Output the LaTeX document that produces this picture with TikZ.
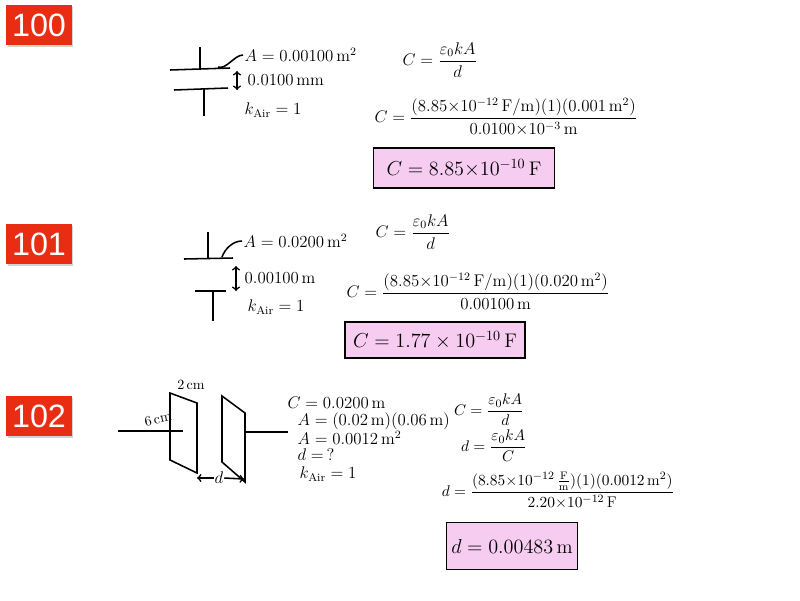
\documentclass[tikz,border=0pt]{standalone}
\usepackage{fontspec}
\usepackage{amsmath}
\usetikzlibrary{shadows}
\newfontfamily\badgefont{Liberation Sans}
\definecolor{badgered}{RGB}{232,45,18}
\definecolor{answerpink}{RGB}{246,204,240}
\tikzset{
  badge/.style={fill=badgered, text=white, font=\badgefont\fontsize{23}{25}\selectfont,
    minimum width=1.625cm, minimum height=1.0cm, inner sep=0pt,
    drop shadow={opacity=0.35, shadow xshift=1pt, shadow yshift=-1.5pt}},
  hand/.style={font=\fontsize{12}{14}\selectfont, inner sep=1pt},
  small hand/.style={font=\fontsize{11}{13}\selectfont, inner sep=0.5pt},
  answer/.style={draw=black, thick, fill=answerpink, font=\fontsize{14}{16}\selectfont, inner sep=0pt},
  pen/.style={black, line width=1.1pt},
}
\begin{document}
\begin{tikzpicture}[x=0.025cm, y=-0.025cm]
\useasboundingbox (0,0) rectangle (800,600);

\node [badge] (b100) at (39,25) {100};
\coordinate (t100a) at (170,70);
\coordinate (t100b) at (230,68);
\coordinate (t100c) at (200,47);
\coordinate (t100d) at (200,69);
\coordinate (t100e) at (174,90);
\coordinate (t100f) at (228,88);
\coordinate (t100g) at (204,89);
\coordinate (t100h) at (204,116);
\coordinate (t100m) at (218,67);
\coordinate (g100a) at (237,71);
\coordinate (g100b) at (237,90);
\node [hand, anchor=west] (area100) at (243,55) {$A=0.00100\,\mathrm{m}^2$};
\node [hand, anchor=west] (gap100) at (246,80) {$0.0100\,\mathrm{mm}$};
\node [hand, anchor=west] (kair100) at (243,110) {$k_{\mathrm{Air}}=1$};
\node [hand] (eq100a) at (440,60) {$C=\dfrac{\varepsilon_0 kA}{d}$};
\node [hand] (eq100b) at (506,117) {$C=\dfrac{(8.85{\times}10^{-12}\,\mathrm{F/m})(1)(0.001\,\mathrm{m}^2)}{0.0100{\times}10^{-3}\,\mathrm{m}}$};
\node [answer, minimum width=4.525cm, minimum height=1.0cm] (ans100) at (464,168) {$C=8.85{\times}10^{-10}\,\mathrm{F}$};
\draw [pen] (t100a) -- (t100b);
\draw [pen] (t100c) -- (t100d);
\draw [pen] (t100e) -- (t100f);
\draw [pen] (t100g) -- (t100h);
\draw [pen] (t100m) to [out=-20, in=180, looseness=0.8] (area100.west);
\draw [pen, <->] (g100a) -- (g100b);

\node [badge] (b101) at (39,244) {101};
\coordinate (t101a) at (184,259);
\coordinate (t101b) at (233,258);
\coordinate (t101c) at (208,232);
\coordinate (t101d) at (208,259);
\coordinate (t101e) at (195,291);
\coordinate (t101f) at (226,291);
\coordinate (t101g) at (213,291);
\coordinate (t101h) at (213,321);
\coordinate (t101m) at (222,257);
\coordinate (g101a) at (236,266);
\coordinate (g101b) at (236,291);
\node [hand, anchor=west] (area101) at (242,241) {$A=0.0200\,\mathrm{m}^2$};
\node [hand, anchor=west] (gap101) at (243,278) {$0.00100\,\mathrm{m}$};
\node [hand, anchor=west] (kair101) at (246,307) {$k_{\mathrm{Air}}=1$};
\node [hand] (eq101a) at (413,232) {$C=\dfrac{\varepsilon_0 kA}{d}$};
\node [hand] (eq101b) at (478,291) {$C=\dfrac{(8.85{\times}10^{-12}\,\mathrm{F/m})(1)(0.020\,\mathrm{m}^2)}{0.00100\,\mathrm{m}}$};
\node [answer, minimum width=4.5cm, minimum height=0.9cm] (ans101) at (435,340) {$C=1.77\times10^{-10}\,\mathrm{F}$};
\draw [pen] (t101a) -- (t101b);
\draw [pen] (t101c) -- (t101d);
\draw [pen] (t101e) -- (t101f);
\draw [pen] (t101g) -- (t101h);
\draw [pen] (t101m) to [out=70, in=180, looseness=0.9] (area101.west);
\draw [pen, <->] (g101a) -- (g101b);

\node [badge] (b102) at (39,416) {102};
\coordinate (lead102a) at (118,431);
\coordinate (lead102b) at (183,431);
\coordinate (lead102c) at (246,432);
\coordinate (lead102d) at (288,432);
\coordinate (pl102a) at (170,393);
\coordinate (pl102b) at (197,403);
\coordinate (pl102c) at (197,473);
\coordinate (pl102d) at (170,460);
\coordinate (pr102a) at (222,396);
\coordinate (pr102b) at (245,413);
\coordinate (pr102c) at (245,482);
\coordinate (pr102d) at (222,462);
\coordinate (d102a) at (197,478);
\coordinate (d102b) at (244,479);
\node [hand, font=\fontsize{10}{12}\selectfont] (wide102) at (191,385) {$2\,\mathrm{cm}$};
\node [hand, font=\fontsize{10}{12}\selectfont, rotate=12] (tall102) at (158,419) {$6\,\mathrm{cm}$};
\node [hand, inner sep=0.5pt] (dist102) at (219,478) {$d$};
\node [hand, anchor=west] (cap102) at (286,403) {$C=0.0200\,\mathrm{m}$};
\node [hand, anchor=west] (area102) at (296,421) {$A=(0.02\,\mathrm{m})(0.06\,\mathrm{m})$};
\node [hand, anchor=west] (areab102) at (296,438) {$A=0.0012\,\mathrm{m}^2$};
\node [hand, anchor=west] (dq102) at (296,455) {$d=\,?$};
\node [hand, anchor=west] (kair102) at (298,474) {$k_{\mathrm{Air}}=1$};
\node [small hand] (eq102a) at (489,410) {$C=\dfrac{\varepsilon_0 kA}{d}$};
\node [small hand] (eq102b) at (494,446) {$d=\dfrac{\varepsilon_0 kA}{C}$};
\node [small hand] (eq102c) at (558,490) {$d=\dfrac{(8.85{\times}10^{-12}\,\frac{\mathrm{F}}{\mathrm{m}})(1)(0.0012\,\mathrm{m}^2)}{2.20{\times}10^{-12}\,\mathrm{F}}$};
\node [answer, minimum width=3.275cm, minimum height=1.175cm] (ans102) at (512,546) {$d=0.00483\,\mathrm{m}$};
\draw [pen] (lead102a) -- (lead102b);
\draw [pen] (lead102c) -- (lead102d);
\draw [pen] (pl102a) -- (pl102b) -- (pl102c) -- (pl102d) -- cycle;
\draw [pen] (pr102a) -- (pr102b) -- (pr102c) -- (pr102d) -- cycle;
\draw [pen, ->] (dist102.west) -- (d102a);
\draw [pen, ->] (dist102.east) -- (d102b);
\end{tikzpicture}
\end{document}
